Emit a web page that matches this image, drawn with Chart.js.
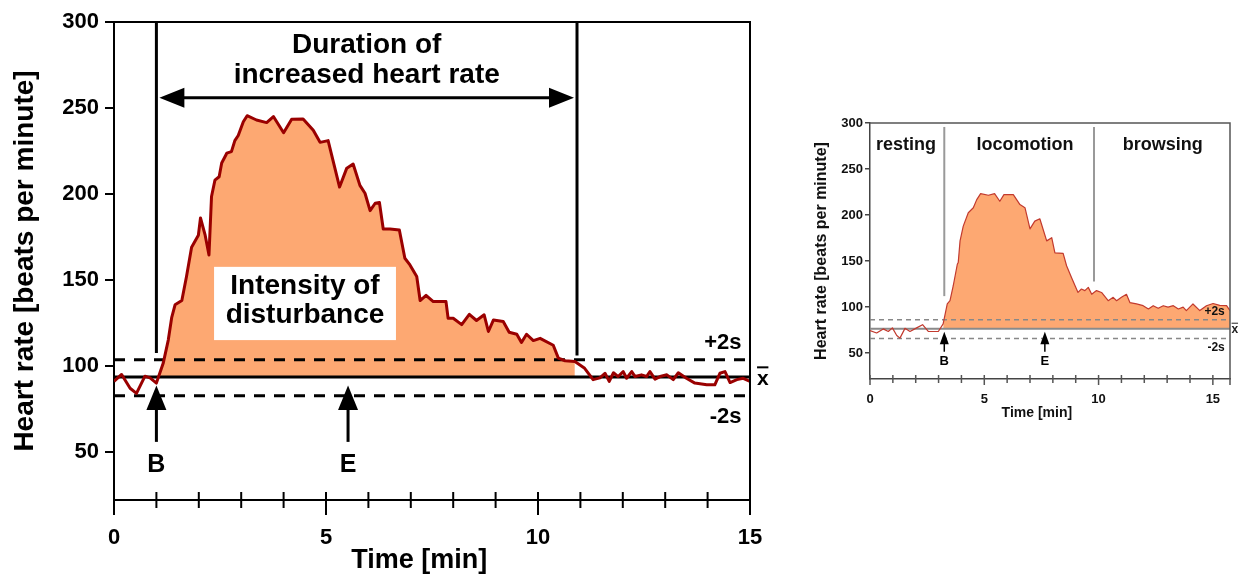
<!DOCTYPE html>
<html>
<head>
<meta charset="utf-8">
<script src="https://cdn.jsdelivr.net/npm/chart.js@4.4.0/dist/chart.umd.min.js"></script>
<style>
  html, body { margin: 0; padding: 0; background: #fff; }
  #wrap { position: relative; width: 1240px; height: 574px; overflow: hidden; }
  canvas { position: absolute; top: 0; }
  #main-chart { left: 0; }
  #inset-chart { left: 790px; }
</style>
</head>
<body>
<div id="wrap">
  <canvas id="main-chart" width="790" height="574"></canvas>
  <canvas id="inset-chart" width="450" height="574"></canvas>
</div>
<script>
// Axis ticks shared by both panels
const yTicks = [50, 100, 150, 200, 250, 300];
const xLabels = [0, 5, 10, 15];

// Main panel: time [min] / heart rate [beats per minute]
const mainTime = [0, 0.18, 0.38, 0.53, 0.73, 0.85, 1.0, 1.16, 1.28, 1.36, 1.44, 1.6, 1.71, 1.83, 1.99, 2.04, 2.15, 2.24, 2.3, 2.38,
    2.48, 2.54, 2.66, 2.77, 2.85, 2.93, 3.05, 3.14, 3.36, 3.6, 3.76, 4.0, 4.19, 4.46, 4.7, 4.86, 5.05, 5.32, 5.49, 5.64,
    5.8, 5.92, 6.04, 6.16, 6.26, 6.35, 6.51, 6.73, 6.86, 6.98, 7.14, 7.22, 7.36, 7.53, 7.83, 7.88, 8.0, 8.2, 8.38, 8.55,
    8.73, 8.83, 8.95, 9.18, 9.32, 9.5, 9.61, 9.73, 9.89, 10.05, 10.36, 10.48, 10.64, 10.87, 11.1, 11.3, 11.46, 11.58, 11.68, 11.78,
    11.89, 12.01, 12.09, 12.21, 12.29, 12.44, 12.56, 12.64, 12.76, 12.88, 13.04, 13.19, 13.31, 13.5, 13.7, 13.98, 14.17, 14.29, 14.41, 14.53,
    14.69, 14.84, 15.0];
const mainRate = [91, 95, 87, 84, 94, 93, 90, 101.5, 115, 128, 135.5, 138, 152, 169, 176, 186, 176, 164.5, 198.5, 208,
    210, 218, 223.7, 224.6, 231, 234, 242, 245.5, 243, 241.5, 245, 235.6, 243.4, 243.6, 237, 230, 231, 204, 215, 217.4,
    205, 200.4, 190.3, 194.6, 195, 179.6, 179.6, 179, 162.6, 158.7, 152, 138, 141, 137.4, 137.4, 127.7, 127.7, 124, 130, 126.4,
    129.7, 120, 126.7, 125.8, 119.6, 118.4, 113.6, 118.4, 114.7, 116, 112, 104.5, 103, 102.5, 98.6, 92, 93, 95.7, 91, 96,
    93.8, 96.7, 92.8, 96.7, 93.8, 94.8, 93.8, 96.7, 92.3, 93.8, 94.8, 92, 96, 92.8, 90, 89, 89, 95.7, 96.7, 90.3,
    92, 92.8, 91];
const mainMean = 93.6, mainUpper = 103.5, mainLower = 82.6;
const mainOnset = 1.0, mainEnd = 10.92, mainEPoint = 5.52;

// Inset panel
const insetTime = [0, 0.29, 0.58, 0.8, 0.98, 1.17, 1.31, 1.53, 1.75, 2.04, 2.3, 2.55, 2.99, 3.2, 3.38, 3.5, 3.64, 3.82, 3.86, 3.94,
    4.08, 4.3, 4.52, 4.67, 4.84, 5.18, 5.45, 5.68, 5.86, 6.27, 6.56, 6.78, 7.0, 7.21, 7.43, 7.73, 7.95, 8.09, 8.45, 8.6,
    8.82, 9.1, 9.25, 9.4, 9.55, 9.7, 9.91, 10.13, 10.42, 10.64, 10.79, 11.0, 11.22, 11.37, 11.66, 11.95, 12.18, 12.39, 12.61, 12.83,
    13.04, 13.27, 13.49, 13.7, 13.84, 14.13, 14.43, 14.72, 15.01, 15.3, 15.6, 15.75];
const insetRate = [74.6, 72, 76.4, 73.6, 77.5, 69.3, 66.4, 77, 73.6, 77.5, 81, 73.6, 73.6, 81.8, 103.5, 107, 123, 146.6, 148.5, 172,
    188, 202.5, 208, 216.8, 223.3, 221.5, 223.3, 215, 222.2, 222.2, 211.4, 208, 185, 193.4, 196, 172, 175.5, 159, 158.5, 145,
    132, 116, 119.7, 118, 121.5, 114, 118, 116, 107, 110.7, 107, 110.7, 114, 105, 103.5, 101.6, 98, 101.6, 98.8, 101.6,
    100, 101.6, 98, 100, 96.3, 103.5, 96.3, 101.6, 104, 102, 101.6, 96.3];
const insetMean = 76.5, insetUpper = 86.4, insetLower = 66;
const insetOnset = 3.25, insetFillFrom = 3.2, insetPhaseEnd = 9.8, insetEPoint = 7.65;
const insetPhases = ['resting', 'locomotion', 'browsing'];
const insetPhaseAt = [1.57, 6.78, 12.81];

const FONT = '"Liberation Sans", Arial, Helvetica, sans-serif';
const ORANGE = '#fda872';

function toPoints(times, rates) {
    return times.map((t, i) => ({ x: t, y: rates[i] }));
}

function fillPoints(times, rates, from, to) {
    return toPoints(times, rates).filter(p => p.x >= from && p.x <= to);
}

// Drawing helpers
function hLine(ctx, x1, x2, y) {
    ctx.beginPath(); ctx.moveTo(x1, y); ctx.lineTo(x2, y); ctx.stroke();
}
function vLine(ctx, x, y1, y2) {
    ctx.beginPath(); ctx.moveTo(x, y1); ctx.lineTo(x, y2); ctx.stroke();
}
function tri(ctx, pts) {
    ctx.beginPath();
    ctx.moveTo(pts[0][0], pts[0][1]);
    ctx.lineTo(pts[1][0], pts[1][1]);
    ctx.lineTo(pts[2][0], pts[2][1]);
    ctx.closePath();
    ctx.fill();
}
function text(ctx, str, x, y, size, align, color) {
    ctx.font = 'bold ' + size + 'px ' + FONT;
    ctx.fillStyle = color || '#000';
    ctx.textAlign = align || 'center';
    ctx.textBaseline = 'middle';
    ctx.fillText(str, x, y);
}

// Reference lines, frame, arrows and labels for one panel
function makeDecor(d) {
    return {
        id: 'decor',
        afterDatasetDraw(chart, args) {
            if (args.index !== 1) return;
            const { ctx, chartArea: a, scales: { y } } = chart;
            ctx.save();
            ctx.strokeStyle = d.refColor;
            ctx.lineWidth = d.dashWidth;
            ctx.setLineDash(d.dash);
            [d.upper, d.lower].forEach(v => hLine(ctx, a.left, a.right, y.getPixelForValue(v)));
            ctx.setLineDash([]);
            ctx.strokeStyle = d.meanColor;
            ctx.lineWidth = d.meanWidth;
            hLine(ctx, a.left, a.right, y.getPixelForValue(d.mean));
            ctx.restore();
        },
        afterDraw(chart) {
            const { ctx, chartArea: a, scales: { x, y } } = chart;
            ctx.save();

            // frame and ticks crossing the time axis
            ctx.strokeStyle = d.frameColor;
            ctx.lineWidth = d.frameWidth;
            ctx.beginPath();
            ctx.moveTo(a.left, a.top);
            ctx.lineTo(a.right, a.top);
            ctx.lineTo(a.right, a.bottom + d.tickOutMajor);
            ctx.stroke();
            x.ticks.forEach(t => {
                const px = x.getPixelForValue(t.value);
                const major = xLabels.includes(t.value);
                vLine(ctx, px, a.bottom - d.tickIn, a.bottom + (major ? d.tickOutMajor : d.tickOut));
            });

            // vertical markers
            d.vlines.forEach(v => {
                ctx.strokeStyle = v.color;
                ctx.lineWidth = v.width;
                vLine(ctx, x.getPixelForValue(v.x), y.getPixelForValue(v.from), y.getPixelForValue(v.to));
            });

            // double arrow with caption
            if (d.span) {
                const s = d.span;
                const py = y.getPixelForValue(s.y);
                const x1 = x.getPixelForValue(s.from) + s.gap;
                const x2 = x.getPixelForValue(s.to) - s.gap;
                ctx.strokeStyle = '#000';
                ctx.fillStyle = '#000';
                ctx.lineWidth = s.width;
                hLine(ctx, x1 + s.head - 2, x2 - s.head + 2, py);
                tri(ctx, [[x1, py], [x1 + s.head, py - s.half], [x1 + s.head, py + s.half]]);
                tri(ctx, [[x2, py], [x2 - s.head, py - s.half], [x2 - s.head, py + s.half]]);
                s.lines.forEach((str, i) => text(ctx, str, x.getPixelForValue(s.textX), y.getPixelForValue(s.textY[i]), s.size));
            }

            // boxed label
            if (d.box) {
                const b = d.box;
                const bx1 = x.getPixelForValue(b.x1), bx2 = x.getPixelForValue(b.x2);
                const by1 = y.getPixelForValue(b.y1), by2 = y.getPixelForValue(b.y2);
                ctx.fillStyle = '#fff';
                ctx.fillRect(bx1, by1, bx2 - bx1, by2 - by1);
                b.lines.forEach((str, i) => text(ctx, str, (bx1 + bx2) / 2, y.getPixelForValue(b.textY[i]), b.size));
            }

            // B / E arrows
            d.arrows.forEach(ar => {
                const px = x.getPixelForValue(ar.x);
                const tip = y.getPixelForValue(ar.tip), base = y.getPixelForValue(ar.base), tail = y.getPixelForValue(ar.tail);
                ctx.strokeStyle = '#000';
                ctx.fillStyle = '#000';
                ctx.lineWidth = ar.width;
                vLine(ctx, px, base - 1, tail);
                tri(ctx, [[px, tip], [px - ar.half, base], [px + ar.half, base]]);
                text(ctx, ar.label, px, y.getPixelForValue(ar.labelY), ar.size);
            });

            // side labels
            d.labels.forEach(l => text(ctx, l.text, x.getPixelForValue(l.x), y.getPixelForValue(l.y), l.size, l.align, l.color));

            // x-bar sign next to the mean line
            const mx = x.getPixelForValue(d.xbar.x), my = y.getPixelForValue(d.mean);
            text(ctx, 'x', mx, my + d.xbar.dy, d.xbar.size, 'center', d.xbar.color);
            ctx.strokeStyle = d.xbar.color;
            ctx.lineWidth = d.xbar.bar;
            hLine(ctx, mx - d.xbar.size * 0.27, mx + d.xbar.size * 0.27, my + d.xbar.dy - d.xbar.size * 0.55);

            // time axis title
            text(ctx, d.xTitle.text, x.getPixelForValue(d.xTitle.x), a.bottom + d.xTitle.offset, d.xTitle.size, 'center', d.xTitle.color);

            ctx.restore();
        }
    };
}

const mainDecor = {
    mean: mainMean, upper: mainUpper, lower: mainLower,
    refColor: '#000', meanColor: '#000', meanWidth: 3, dashWidth: 3, dash: [11, 9],
    frameColor: '#000', frameWidth: 2,
    tickIn: 8, tickOut: 8, tickOutMajor: 15,
    vlines: [
        { x: mainOnset, from: 300, to: 107.5, color: '#000', width: 3 },
        { x: mainEnd, from: 300, to: 106, color: '#000', width: 3 }
    ],
    span: {
        from: mainOnset, to: mainEnd, y: 256, gap: 3, head: 25, half: 10, width: 3,
        lines: ['Duration of', 'increased heart rate'], textX: (mainOnset + mainEnd) / 2, textY: [286.2, 269], size: 28
    },
    box: { x1: 2.36, x2: 6.65, y1: 157.6, y2: 115, lines: ['Intensity of', 'disturbance'], textY: [146.5, 129.7], size: 28 },
    arrows: [
        { x: mainOnset, tip: 88.6, base: 74.4, tail: 55.8, labelY: 42.4, label: 'B', half: 10, width: 3, size: 25 },
        { x: mainEPoint, tip: 88.6, base: 74.4, tail: 55.8, labelY: 42.4, label: 'E', half: 10, width: 3, size: 25 }
    ],
    labels: [
        { text: '+2s', x: 14.8, y: 113.4, size: 22, align: 'right' },
        { text: '-2s', x: 14.8, y: 70.3, size: 22, align: 'right' }
    ],
    xbar: { x: 15.3, dy: 2, size: 21, bar: 2, color: '#000' },
    xTitle: { text: 'Time [min]', x: 7.2, offset: 61, size: 27, color: '#000' }
};

const insetDecor = {
    mean: insetMean, upper: insetUpper, lower: insetLower,
    refColor: '#888', meanColor: '#8a8a8a', meanWidth: 2, dashWidth: 1.5, dash: [5, 4],
    frameColor: '#555', frameWidth: 1.5,
    tickIn: 4, tickOut: 4, tickOutMajor: 6,
    vlines: [
        { x: insetOnset, from: 295.7, to: 112, color: '#999', width: 2 },
        { x: insetPhaseEnd, from: 295.7, to: 128, color: '#999', width: 2 }
    ],
    span: null,
    box: null,
    arrows: [
        { x: insetOnset, tip: 73.2, base: 59.8, tail: 51.6, labelY: 41, label: 'B', half: 4.5, width: 1.5, size: 13 },
        { x: insetEPoint, tip: 73.2, base: 59.8, tail: 51.6, labelY: 41, label: 'E', half: 4.5, width: 1.5, size: 13 }
    ],
    labels: insetPhases.map((p, i) => ({ text: p, x: insetPhaseAt[i], y: 276, size: 18, align: 'center', color: '#111' })).concat([
        { text: '+2s', x: 15.52, y: 94.8, size: 12, align: 'right', color: '#111' },
        { text: '-2s', x: 15.52, y: 56, size: 12, align: 'right', color: '#111' }
    ]),
    xbar: { x: 15.96, dy: 1, size: 12, bar: 1, color: '#222' },
    xTitle: { text: 'Time [min]', x: 7.3, offset: 34, size: 14, color: '#111' }
};

function panelConfig(opts) {
    return {
        type: 'line',
        data: {
            datasets: [
                {
                    data: toPoints(opts.time, opts.rate),
                    borderColor: opts.lineColor,
                    borderWidth: opts.lineWidth,
                    borderJoinStyle: 'round',
                    pointRadius: 0,
                    fill: false,
                    tension: 0
                },
                {
                    data: fillPoints(opts.time, opts.rate, opts.fillFrom, opts.fillTo),
                    borderColor: 'rgba(0,0,0,0)',
                    borderWidth: 0,
                    pointRadius: 0,
                    tension: 0,
                    fill: { target: { value: opts.mean }, above: ORANGE, below: 'rgba(0,0,0,0)' }
                }
            ]
        },
        options: {
            responsive: false,
            animation: false,
            layout: { padding: opts.padding },
            plugins: { legend: { display: false }, tooltip: { enabled: false } },
            scales: {
                x: {
                    type: 'linear',
                    min: 0,
                    max: opts.xMax,
                    afterFit: s => { s.height = opts.xHeight; },
                    grid: { display: false },
                    border: { display: true, color: opts.axisColor, width: opts.axisWidth },
                    ticks: {
                        stepSize: 1,
                        autoSkip: false,
                        includeBounds: false,
                        maxRotation: 0,
                        padding: opts.xPad,
                        color: opts.textColor,
                        font: { family: FONT, size: opts.tickSize, weight: 'bold' },
                        callback: v => xLabels.includes(v) ? String(v) : ''
                    }
                },
                y: {
                    min: 22,
                    max: 300,
                    afterFit: s => { s.width = opts.yWidth; },
                    afterBuildTicks: s => { s.ticks = yTicks.map(v => ({ value: v })); },
                    grid: { drawOnChartArea: false, tickLength: opts.yTickLen, color: opts.axisColor, lineWidth: opts.axisWidth },
                    border: { display: true, color: opts.axisColor, width: opts.axisWidth },
                    ticks: {
                        padding: opts.yPad,
                        color: opts.textColor,
                        font: { family: FONT, size: opts.tickSize, weight: 'bold' }
                    },
                    title: {
                        display: true,
                        text: 'Heart rate [beats per minute]',
                        color: opts.textColor,
                        padding: { top: opts.titlePad, bottom: 0 },
                        font: { family: FONT, size: opts.titleSize, weight: 'bold' }
                    }
                }
            }
        },
        plugins: [makeDecor(opts.decor)]
    };
}

new Chart(document.getElementById('main-chart'), panelConfig({
    time: mainTime, rate: mainRate, mean: mainMean,
    fillFrom: mainOnset, fillTo: mainEnd,
    lineColor: '#9a0000', lineWidth: 3,
    padding: { top: 22, right: 40, left: 0, bottom: 0 },
    xMax: 15, xHeight: 74, xPad: 17, yWidth: 114, yTickLen: 9, yPad: 6,
    axisColor: '#000', axisWidth: 2, textColor: '#000',
    tickSize: 22, titleSize: 28, titlePad: 8,
    decor: mainDecor
}));

new Chart(document.getElementById('inset-chart'), panelConfig({
    time: insetTime, rate: insetRate, mean: insetMean,
    fillFrom: insetFillFrom, fillTo: 16,
    lineColor: '#c23a2e', lineWidth: 1.2,
    padding: { top: 123, right: 10, left: 0, bottom: 0 },
    xMax: 15.75, xHeight: 195, xPad: 5, yWidth: 80, yTickLen: 5, yPad: 2,
    axisColor: '#444', axisWidth: 1.5, textColor: '#111',
    tickSize: 13, titleSize: 16, titlePad: 22,
    decor: insetDecor
}));
</script>
</body>
</html>
